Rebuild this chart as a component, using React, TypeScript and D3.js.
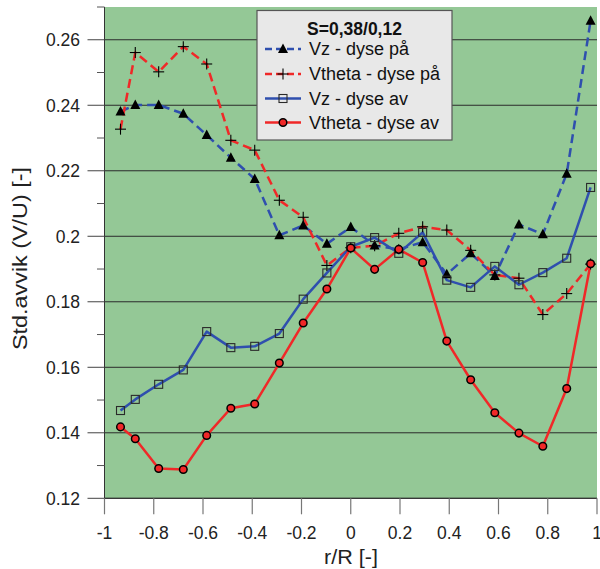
import React from "react";
import * as d3 from "d3";

// Radial positions r/R
const rPos = [-0.935, -0.875, -0.78, -0.68, -0.585, -0.487, -0.39, -0.29, -0.193, -0.097, 0, 0.097, 0.195, 0.292, 0.39, 0.487, 0.585, 0.683, 0.78, 0.877, 0.974];

// Standard deviation V/U for each series
const vzDysePa = [0.2381, 0.2401, 0.2401, 0.2374, 0.2309, 0.224, 0.2175, 0.2003, 0.2033, 0.1977, 0.2028, 0.1972, 0.196, 0.1982, 0.1884, 0.1948, 0.1879, 0.2036, 0.2006, 0.2191, 0.2658];
const vthetaDysePa = [0.2327, 0.2561, 0.2502, 0.2579, 0.2526, 0.2293, 0.2263, 0.211, 0.2058, 0.1911, 0.1965, 0.1971, 0.2009, 0.2029, 0.2019, 0.1957, 0.1882, 0.1872, 0.1761, 0.1825, 0.1915];
const vzDyseAv = [0.1468, 0.1502, 0.1548, 0.1592, 0.1709, 0.166, 0.1664, 0.1703, 0.1808, 0.1888, 0.1968, 0.1996, 0.1948, 0.2012, 0.1866, 0.1844, 0.1908, 0.1852, 0.1889, 0.1933, 0.2149];
const vthetaDyseAv = [0.1418, 0.1382, 0.1291, 0.1288, 0.1392, 0.1475, 0.1488, 0.1613, 0.1735, 0.1839, 0.1964, 0.1899, 0.196, 0.192, 0.168, 0.1562, 0.1461, 0.1399, 0.1359, 0.1535, 0.1916];

const xTicks = [-1, -0.8, -0.6, -0.4, -0.2, 0, 0.2, 0.4, 0.6, 0.8, 1];
const yTicks = [0.12, 0.14, 0.16, 0.18, 0.2, 0.22, 0.24, 0.26];
const yMinorTicks = [0.13, 0.15, 0.17, 0.19, 0.21, 0.23, 0.25, 0.27];

const legendTitle = "S=0,38/0,12";
const seriesNames = ["Vz - dyse på", "Vtheta - dyse på", "Vz - dyse av", "Vtheta - dyse av"];

const W = 600;
const H = 569;
const plot = { left: 104.5, right: 597, top: 7, bottom: 498.3 };

const BLUE = "#2f4fae";
const RED = "#f02828";
const GREEN = "#94c896";
const FONT = "'Liberation Sans', Arial, sans-serif";

type Marker = "triangle" | "plus" | "square" | "circle";

function MarkerShape({ kind, x, y }: { kind: Marker; x: number; y: number }) {
  if (kind === "triangle") {
    const s = 5;
    return <path d={`M${x},${y - s - 0.5} L${x + s},${y + s - 1} L${x - s},${y + s - 1} Z`} fill="#000" />;
  }
  if (kind === "plus") {
    return (
      <g stroke="#000" strokeWidth={1.1}>
        <line x1={x - 5.5} x2={x + 5.5} y1={y} y2={y} />
        <line x1={x} x2={x} y1={y - 5.5} y2={y + 5.5} />
      </g>
    );
  }
  if (kind === "square") {
    return <rect x={x - 4} y={y - 4} width={8} height={8} fill="none" stroke="#2a2a2a" strokeWidth={1.1} />;
  }
  return <circle cx={x} cy={y} r={3.8} fill={RED} stroke="#000" strokeWidth={1.5} />;
}

export default function App() {
  const x = d3.scaleLinear().domain([-1, 1]).range([plot.left, plot.right]);
  const y = d3.scaleLinear().domain([0.12, 0.27]).range([plot.bottom, plot.top]);

  const series = [
    { name: seriesNames[0], values: vzDysePa, color: BLUE, dash: "9,5", marker: "triangle" as Marker },
    { name: seriesNames[1], values: vthetaDysePa, color: RED, dash: "9,5", marker: "plus" as Marker },
    { name: seriesNames[2], values: vzDyseAv, color: BLUE, dash: undefined, marker: "square" as Marker },
    { name: seriesNames[3], values: vthetaDyseAv, color: RED, dash: undefined, marker: "circle" as Marker },
  ];

  const line = d3
    .line<number>()
    .x((_, i) => x(rPos[i]))
    .y((v) => y(v));

  const legend = { x: 257, y: 10.5, w: 195, h: 129.5 };
  const rowY = [49, 74, 98.5, 122.5];

  return (
    <svg width={W} height={H} style={{ position: "absolute", left: 0, top: 0, background: "#fff" }}>
      <rect x={plot.left} y={plot.top} width={plot.right - plot.left} height={plot.bottom - plot.top} fill={GREEN} />

      {/* horizontal grid */}
      {yTicks.map((t) => (
        <line key={"g" + t} x1={plot.left} x2={plot.right} y1={y(t)} y2={y(t)} stroke="#2b2b2b" strokeWidth={1} />
      ))}

      {/* left axis */}
      <line x1={plot.left} x2={plot.left} y1={plot.top} y2={plot.bottom} stroke="#333" strokeWidth={1} />
      {yTicks.map((t) => (
        <g key={"yt" + t}>
          <line x1={plot.left - 17} x2={plot.left} y1={y(t)} y2={y(t)} stroke="#444" strokeWidth={1} />
          <text x={80} y={y(t)} dy="0.36em" textAnchor="end" fontSize={17.5} fontFamily={FONT} fill="#222">
            {String(t)}
          </text>
        </g>
      ))}
      {yMinorTicks.map((t) => (
        <line key={"ym" + t} x1={plot.left - 7.5} x2={plot.left} y1={y(t)} y2={y(t)} stroke="#555" strokeWidth={1} />
      ))}

      {/* bottom axis */}
      <line x1={plot.left} x2={plot.right} y1={plot.bottom} y2={plot.bottom} stroke="#333" strokeWidth={1} />
      {xTicks.map((t) => (
        <g key={"xt" + t}>
          <line x1={x(t)} x2={x(t)} y1={plot.bottom} y2={plot.bottom + 16} stroke="#777" strokeWidth={1.2} />
          <text x={x(t)} y={539} textAnchor="middle" fontSize={17.5} fontFamily={FONT} fill="#222">
            {String(t)}
          </text>
        </g>
      ))}

      {/* axis titles */}
      <text
        x={351}
        y={564}
        textAnchor="middle"
        fontSize={20}
        fontFamily={FONT}
        fill="#222"
        textLength={54}
        lengthAdjust="spacingAndGlyphs"
      >
        r/R [-]
      </text>
      <text
        transform={`translate(27, 258.5) rotate(-90)`}
        textAnchor="middle"
        fontSize={19.5}
        fontFamily={FONT}
        fill="#222"
        textLength={183}
        lengthAdjust="spacingAndGlyphs"
      >
        Std.avvik (V/U) [-]
      </text>

      {/* series lines */}
      {series.map((s) => (
        <path
          key={"l" + s.name}
          d={line(s.values) || ""}
          fill="none"
          stroke={s.color}
          strokeWidth={2.5}
          strokeDasharray={s.dash}
          strokeLinejoin="round"
        />
      ))}

      {/* series markers */}
      {series.map((s) => (
        <g key={"m" + s.name}>
          {s.values.map((v, i) => (
            <MarkerShape key={i} kind={s.marker} x={x(rPos[i])} y={y(v)} />
          ))}
        </g>
      ))}

      {/* legend */}
      <rect x={legend.x} y={legend.y} width={legend.w} height={legend.h} fill="#e8e8e8" stroke="#555" strokeWidth={1.2} />
      <text x={legend.x + legend.w / 2} y={35} textAnchor="middle" fontSize={17.5} fontWeight="bold" fontFamily={FONT} fill="#111">
        {legendTitle}
      </text>
      {series.map((s, i) => (
        <g key={"lg" + s.name}>
          <line
            x1={265}
            x2={301}
            y1={rowY[i]}
            y2={rowY[i]}
            stroke={s.color}
            strokeWidth={2.5}
            strokeDasharray={s.dash ? "7,4" : undefined}
          />
          <MarkerShape kind={s.marker} x={283} y={rowY[i]} />
          <text x={309} y={rowY[i]} dy="0.36em" fontSize={18} fontFamily={FONT} fill="#111">
            {s.name}
          </text>
        </g>
      ))}
    </svg>
  );
}
